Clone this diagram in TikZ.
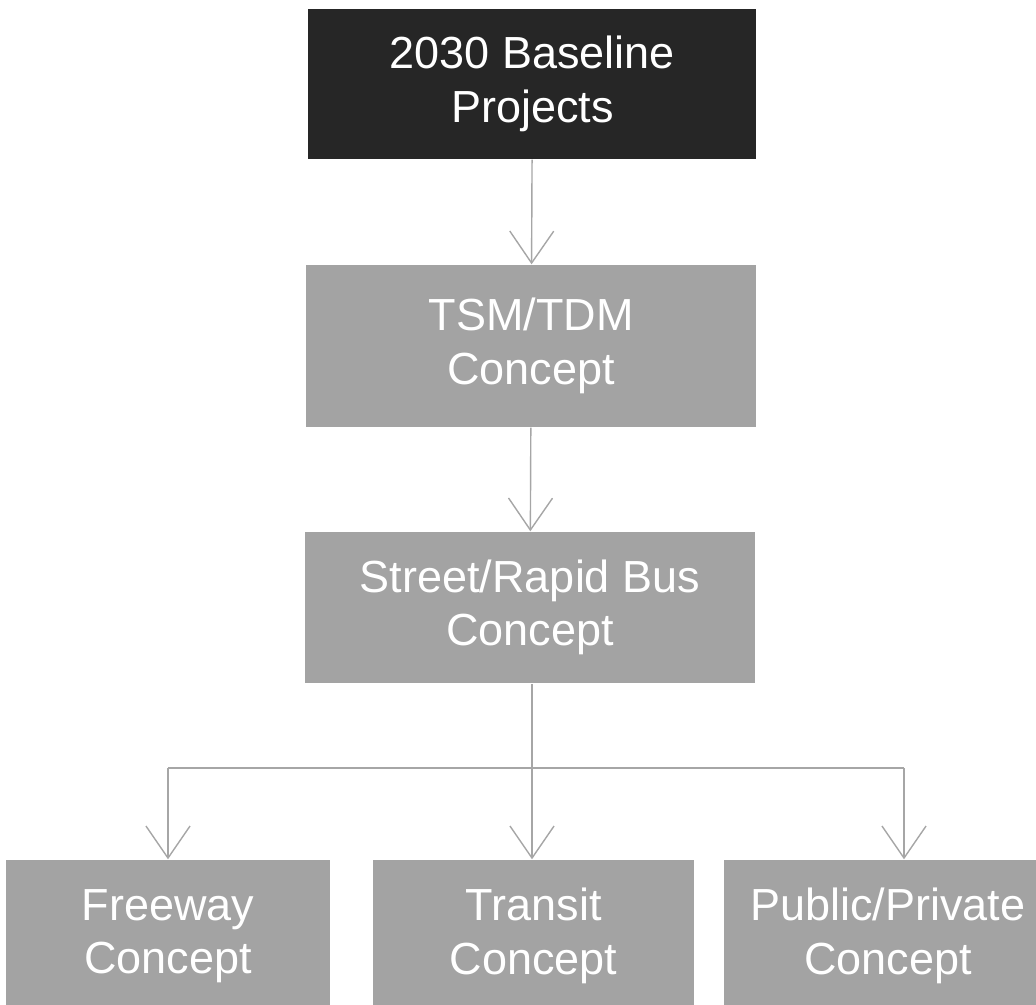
\documentclass[tikz,border=0pt]{standalone}
\usepackage{fontspec}
\setmainfont{Liberation Sans}
\usetikzlibrary{arrows.meta}
\begin{document}
\begin{tikzpicture}[>={Straight Barb[length=0.8cm,width=1.1cm]},
  line width=1pt,
  concept/.style={rectangle, fill=black!36, text=white, align=center, inner sep=0pt,
    font=\fontsize{32}{38}\selectfont, minimum height=3.8cm},
  link/.style={draw=black!35}]
\useasboundingbox (0,0) rectangle (25.9,-25.125);
\node[concept, fill=black!85, minimum width=11.2cm, minimum height=3.75cm] (base) at (13.31,-2.1) {2030 Baseline\\Projects};
\node[concept, minimum width=11.25cm, minimum height=4.05cm] (tsm) at (13.28,-8.65) {TSM/TDM\\Concept};
\node[concept, minimum width=11.25cm, minimum height=3.78cm] (street) at (13.25,-15.19) {Street/Rapid Bus\\Concept};
\node[concept, minimum width=8.1cm, minimum height=3.8cm] (fw) at (4.2,-23.4) {Freeway\\Concept};
\node[concept, minimum width=8.03cm, minimum height=3.8cm] (tr) at (13.34,-23.4) {Transit\\Concept};
\node[concept, minimum width=8.2cm, minimum height=3.8cm] (pp) at (22.2,-23.4) {Public/Private\\Concept};
\coordinate (split) at (13.3,-19.2);
\coordinate (ppin) at ([xshift=0.4cm]pp.north);
\draw[link, ->] (base) -- (tsm);
\draw[link, ->] (tsm) -- (street);
\draw[link] (street.south -| split) -- (split);
\draw[link] (split -| fw) -- (split -| ppin);
\draw[link, ->] (split -| fw) -- (fw.north);
\draw[link, ->] (split) -- (tr.north -| split);
\draw[link, ->] (split -| ppin) -- (ppin);
\end{tikzpicture}
\end{document}
